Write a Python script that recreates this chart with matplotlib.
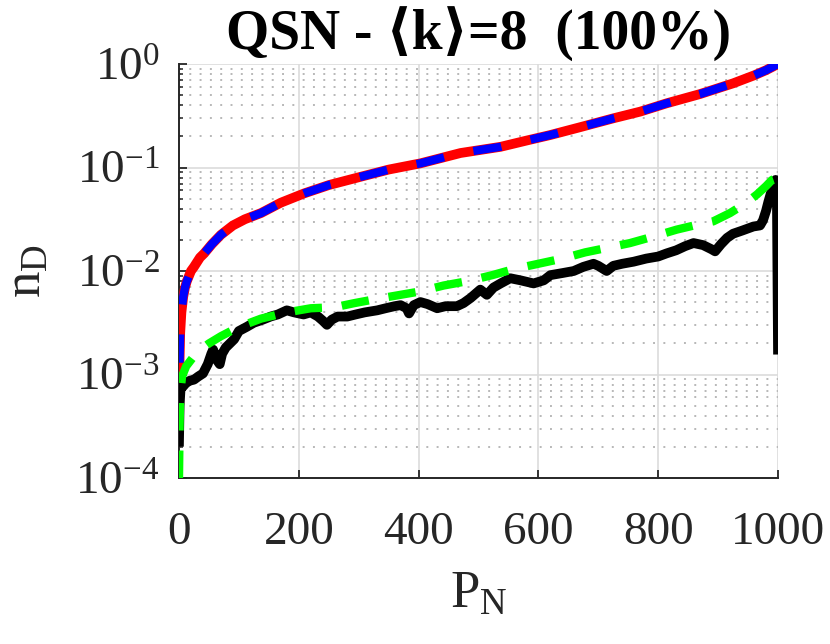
import numpy as np
import matplotlib
matplotlib.use("Agg")
import matplotlib.pyplot as plt
from matplotlib.ticker import FixedLocator, FuncFormatter, LogLocator, NullFormatter

plt.rcParams['font.family'] = ['Liberation Serif', 'DejaVu Serif']
plt.rcParams['mathtext.fontset'] = 'custom'
plt.rcParams['mathtext.rm'] = 'Liberation Serif'
plt.rcParams['mathtext.it'] = 'Liberation Serif:italic'
plt.rcParams['mathtext.bf'] = 'Liberation Serif:bold'

# simulacion (rojo) y teoria (azul, se superpone)
sim_x = [0, 1, 2, 4, 7, 10, 13, 20, 25, 35, 42, 55, 70, 90, 110, 137, 170, 209,
         250, 303, 350, 403, 470, 537, 580, 620, 670, 725, 770, 814, 870, 925,
         960, 980, 1000]
sim_log = [-3.45, -2.85, -2.6, -2.4, -2.25, -2.16, -2.10, -2.0, -1.96, -1.87,
           -1.83, -1.74, -1.65, -1.56, -1.50, -1.44, -1.34, -1.25, -1.17, -1.09,
           -1.02, -0.96, -0.86, -0.80, -0.74, -0.686, -0.61, -0.525, -0.46,
           -0.38, -0.29, -0.187, -0.11, -0.06, 0.0]

# densidad medida (negro)
med_x = [0, 1, 3, 6, 12, 18, 25, 32, 40, 48, 54, 57, 62, 68, 72, 78, 85, 92,
         100, 113, 125, 140, 153, 165, 180, 192, 208, 220, 232, 240, 247, 255,
         265, 281, 295, 310, 331, 345, 360, 370, 380, 384, 392, 403, 415, 431,
         445, 464, 475, 487, 495, 503, 514, 525, 537, 553, 570, 592, 609, 620,
         640, 659, 675, 692, 700, 714, 725, 740, 759, 780, 800, 814, 830, 845,
         859, 875, 889, 895, 905, 915, 925, 940, 959, 970, 975, 980, 984, 988,
         992, 996, 998, 1000]
med_log = [-3.65, -3.3, -3.1, -3.12, -3.08, -3.06, -3.05, -3.02, -2.99, -2.9,
           -2.8, -2.76, -2.85, -2.9, -2.8, -2.74, -2.70, -2.66, -2.58, -2.54,
           -2.50, -2.47, -2.44, -2.42, -2.38, -2.40, -2.42, -2.40, -2.44, -2.48,
           -2.52, -2.47, -2.44, -2.44, -2.42, -2.40, -2.38, -2.36, -2.34, -2.33,
           -2.36, -2.41, -2.33, -2.30, -2.32, -2.36, -2.34, -2.34, -2.31, -2.26,
           -2.22, -2.18, -2.23, -2.16, -2.12, -2.07, -2.09, -2.12, -2.09, -2.04,
           -2.02, -2.00, -1.96, -1.93, -1.95, -2.0, -1.95, -1.93, -1.91, -1.88,
           -1.86, -1.83, -1.80, -1.76, -1.73, -1.75, -1.79, -1.81, -1.74, -1.68,
           -1.64, -1.61, -1.57, -1.56, -1.51, -1.42, -1.33, -1.25, -1.19, -1.12,
           -1.15, -2.76]

# aproximacion (verde)
apr_x = [0, 1, 2, 5, 12, 24, 36, 50, 70, 100, 137, 180, 220, 260, 293, 330,
         370, 400, 442, 480, 523, 560, 600, 640, 678, 720, 753, 790, 831, 860,
         892, 920, 945, 965, 980, 990, 1000]
apr_log = [-4.0, -3.5, -3.2, -3.02, -2.92, -2.83, -2.76, -2.70, -2.63, -2.54,
           -2.46, -2.40, -2.36, -2.35, -2.31, -2.27, -2.23, -2.20, -2.14, -2.10,
           -2.04, -1.98, -1.93, -1.88, -1.82, -1.77, -1.73, -1.67, -1.60, -1.56,
           -1.52, -1.44, -1.35, -1.26, -1.18, -1.12, -1.10]

x_ticks = [0, 200, 400, 600, 800, 1000]
y_decades = [-4, -3, -2, -1, 0]

fig = plt.figure(figsize=(8.3, 6.44), dpi=100)
ax = fig.add_axes([179 / 830, 1 - 478 / 644, 599 / 830, 414 / 644])

ax.plot(sim_x, 10.0 ** np.array(sim_log), color='#ff0000', lw=7,
        solid_joinstyle='round', zorder=3)
ax.plot(sim_x, 10.0 ** np.array(sim_log), color='#0000ff', lw=6,
        dashes=(3.4, 3.6), zorder=4)
ax.plot(med_x, 10.0 ** np.array(med_log), color='k', lw=7,
        solid_joinstyle='round', zorder=5)
ax.plot(apr_x, 10.0 ** np.array(apr_log), color='#00ff00', lw=6,
        dashes=(3.3, 2.4), zorder=6)

ax.set_yscale('log')
ax.set_xlim(0, 1000)
ax.set_ylim(1e-4, 1e0)
ax.xaxis.set_major_locator(FixedLocator(x_ticks))
ax.yaxis.set_major_locator(FixedLocator([10.0 ** d for d in y_decades]))
ax.yaxis.set_minor_locator(LogLocator(base=10, subs=np.arange(2, 10)))
ax.yaxis.set_minor_formatter(NullFormatter())
ax.yaxis.set_major_formatter(FuncFormatter(
    lambda v, p: r'$10^{%d}$' % int(round(np.log10(v))) if v > 0 else ''))

ax.grid(True, which='major', color='#dcdcdc', lw=1.2, ls='-', zorder=0)
ax.grid(True, which='minor', axis='y', color='#b8b8b8', lw=1.4,
        ls=(0, (1, 4.3)), zorder=0)
ax.set_axisbelow(True)

for s in ['top', 'right']:
    ax.spines[s].set_visible(False)
for s in ['left', 'bottom']:
    ax.spines[s].set_color('#262626')
    ax.spines[s].set_linewidth(1.4)

ax.tick_params(which='major', direction='in', length=6, width=1.3,
               colors='#262626', labelsize=34)
ax.tick_params(which='minor', direction='in', length=3, width=1.1,
               colors='#262626')
ax.tick_params(axis='x', pad=24)
ax.tick_params(axis='y', pad=14)

ax.set_xlabel(r'P$_{\mathregular{N}}$', fontsize=38, color='#262626', labelpad=12)
ax.set_ylabel(r'n$_{\mathregular{D}}$', fontsize=38, color='#262626', labelpad=17)
ax.set_title('QSN - \u27e8k\u27e9=8  (100%)', fontsize=40,
             fontweight='bold', color='k', pad=10)

fig.savefig('out.png', dpi=100)
